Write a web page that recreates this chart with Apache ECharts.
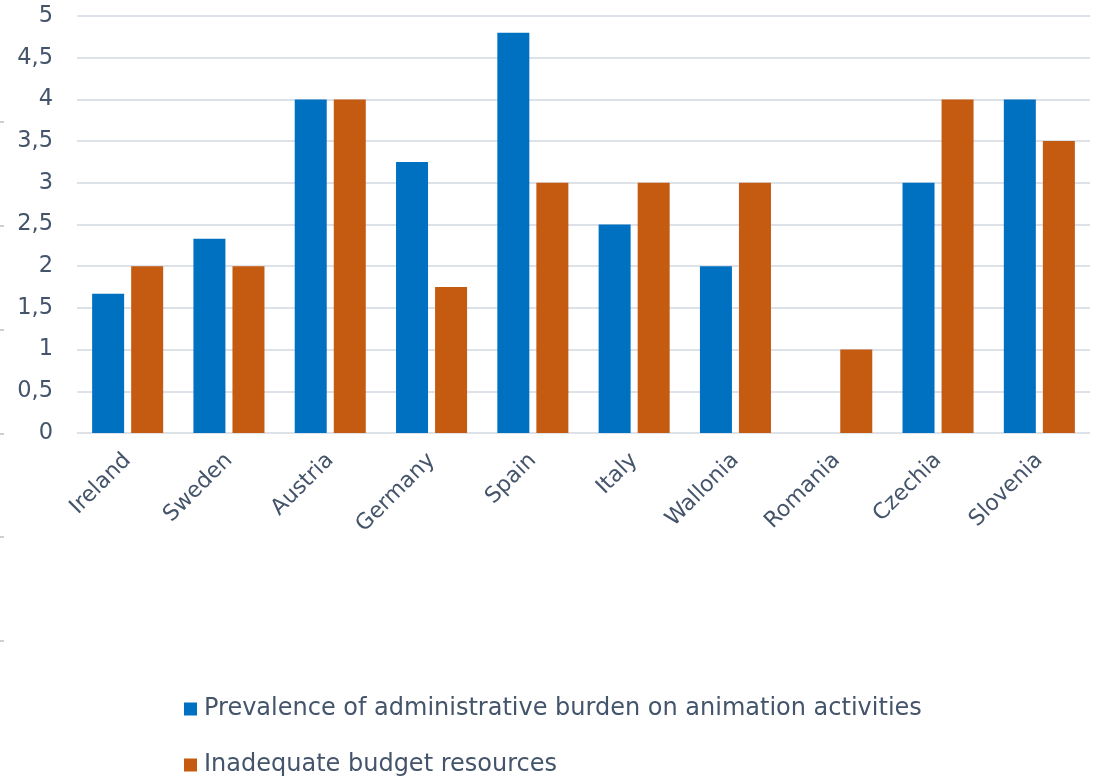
<!DOCTYPE html>
<html>
<head>
<meta charset="utf-8">
<script src="https://cdn.jsdelivr.net/npm/echarts@6/dist/echarts.min.js"></script>
<style>
  html, body { margin: 0; padding: 0; background: #fff; }
  #chart { width: 1102px; height: 779px; }
</style>
</head>
<body>
<div id="chart"></div>
<script>
// Countries / regions on the category axis
const categories = ['Ireland', 'Sweden', 'Austria', 'Germany', 'Spain', 'Italy', 'Wallonia', 'Romania', 'Czechia', 'Slovenia'];

// Average scores per country
const adminBurden = [1.67, 2.33, 4, 3.25, 4.8, 2.5, 2, 0, 3, 4];
const budgetResources = [2, 2, 4, 1.75, 3, 3, 3, 1, 4, 3.5];

const seriesNames = [
  'Prevalence of administrative burden on animation activities',
  'Inadequate budget resources'
];

const textColor = '#44546A';
const font = 'DejaVu Sans';

// Faint ruler notches along the left page edge
const rulerMarks = [122, 226, 330, 434, 537, 641].map(y => ({
  type: 'rect',
  left: 0,
  top: y - 1,
  shape: { width: 4, height: 2 },
  style: { fill: '#D0D0D0' },
  silent: true
}));

// One legend block per series, stacked vertically under the chart
const legendRows = [697, 753];
const legends = seriesNames.map((name, i) => ({
  orient: 'vertical',
  left: 184,
  top: legendRows[i],
  padding: 0,
  itemWidth: 13,
  itemHeight: 13,
  icon: 'rect',
  textStyle: { color: textColor, fontSize: 24, fontFamily: font, padding: [0, 0, 0, 2] },
  data: [name]
}));

const chart = echarts.init(document.getElementById('chart'));
chart.setOption({
  animation: false,
  textStyle: { fontFamily: font },
  grid: { left: 77, right: 12, top: 16, bottom: 346 },
  graphic: rulerMarks,
  legend: legends,
  xAxis: {
    type: 'category',
    data: categories,
    axisLine: { show: false },
    axisTick: { show: false },
    axisLabel: {
      color: textColor,
      fontSize: 22,
      rotate: 45,
      margin: 24,
      interval: 0
    }
  },
  yAxis: {
    type: 'value',
    min: 0,
    max: 5,
    interval: 0.5,
    axisLine: { show: false },
    axisTick: { show: false },
    splitLine: { lineStyle: { color: '#DDE1E8', width: 2 } },
    axisLabel: {
      color: textColor,
      fontSize: 22.5,
      margin: 24,
      formatter: v => String(v).replace('.', ',')
    }
  },
  series: [
    {
      name: seriesNames[0],
      type: 'bar',
      data: adminBurden,
      barWidth: 32,
      barGap: '22%',
      itemStyle: { color: '#0070C0' }
    },
    {
      name: seriesNames[1],
      type: 'bar',
      data: budgetResources,
      barWidth: 32,
      itemStyle: { color: '#C55A11' }
    }
  ]
});
</script>
</body>
</html>
